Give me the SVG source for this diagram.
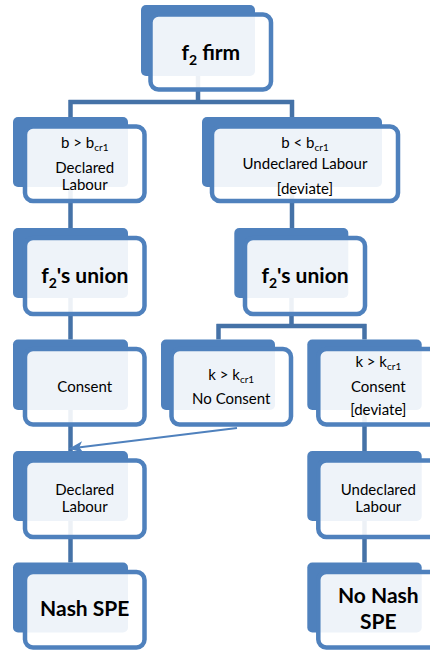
<svg xmlns="http://www.w3.org/2000/svg" width="430" height="650" viewBox="0 0 430 650">
<defs>
<style>
.back{fill:#4F81BD}
.front{fill:#FFFFFF;fill-opacity:0.9;stroke:#4F81BD;stroke-width:4.5}
.conn{fill:none;stroke:#4572A7;stroke-width:4.5;stroke-linejoin:miter}
.arrow{fill:none;stroke:#4F81BD;stroke-width:2}
text{font-family:Lato,"Liberation Sans",sans-serif;fill:#000;text-anchor:middle}
.t{font-size:15px}
.b{font-size:21px;font-weight:bold}
.s{font-size:10px}
.sb{font-size:14px}
</style>
<marker id="ah" markerUnits="userSpaceOnUse" markerWidth="14" markerHeight="14" viewBox="0 0 12 12" refX="11" refY="6" orient="auto">
<path d="M0,1 L12,6 L0,11 L3,6 Z" fill="#4F81BD"/>
</marker>
</defs>
<g id="connectors">
<path class="conn" d="M198,76 V102 M68.5,102 H294 M70.5,100 V117 M292,100 V117"/>
<path class="conn" d="M70.5,187 V228"/>
<path class="conn" d="M292,187 V228"/>
<path class="conn" d="M70.5,298 V339.5"/>
<path class="conn" d="M291.5,298 V326 M216.5,326 H366.5 M218.5,324 V339.5 M364.5,324 V339.5"/>
<path class="conn" d="M70.5,409.5 V451"/>
<path class="conn" d="M364.5,409.5 V451"/>
<path class="conn" d="M70.5,521 V562.5"/>
<path class="conn" d="M364.5,521 V562.5"/>
</g>
<g id="n1">
<rect class="back" x="141" y="5" width="114" height="71" rx="5"/>
<rect class="front" x="150.5" y="14.5" width="120.5" height="75" rx="8"/>
<text class="b" x="210.8" y="60">f<tspan class="sb" dy="5">2</tspan><tspan dy="-5"> firm</tspan></text>
</g>
<g id="n2">
<rect class="back" x="13" y="117" width="115" height="70" rx="5"/>
<rect class="front" x="25" y="126.5" width="119.5" height="74.5" rx="8"/>
<text class="t" x="84.75" y="148">b &gt; b<tspan class="s" dy="3">cr1</tspan></text>
<text class="t" x="84.75" y="173">Declared</text>
<text class="t" x="84.75" y="190">Labour</text>
</g>
<g id="n3">
<rect class="back" x="202" y="117" width="180" height="70" rx="5"/>
<rect class="front" x="212" y="126.5" width="186" height="74.5" rx="8"/>
<text class="t" x="305" y="148">b &lt; b<tspan class="s" dy="3">cr1</tspan></text>
<text class="t" x="305" y="169">Undeclared Labour</text>
<text class="t" x="305" y="194">[deviate]</text>
</g>
<g id="n4">
<rect class="back" x="13" y="228" width="115" height="70" rx="5"/>
<rect class="front" x="25" y="238" width="119.5" height="76" rx="8"/>
<text class="b" x="84.75" y="283">f<tspan class="sb" dy="5">2</tspan><tspan dy="-5">'s union</tspan></text>
</g>
<g id="n5">
<rect class="back" x="234.3" y="228" width="114" height="70" rx="5"/>
<rect class="front" x="245" y="238" width="120" height="76" rx="8"/>
<text class="b" x="305" y="283">f<tspan class="sb" dy="5">2</tspan><tspan dy="-5">'s union</tspan></text>
</g>
<g id="n6">
<rect class="back" x="13" y="339.5" width="115" height="70.5" rx="5"/>
<rect class="front" x="25" y="349" width="119.5" height="75.5" rx="8"/>
<text class="t" x="84.75" y="391.7">Consent</text>
</g>
<g id="n7">
<rect class="back" x="161" y="339.5" width="114" height="70.5" rx="5"/>
<rect class="front" x="171.5" y="349" width="119.5" height="75.5" rx="8"/>
<text class="t" x="231.25" y="380">k &gt; k<tspan class="s" dy="3">cr1</tspan></text>
<text class="t" x="231.25" y="404">No Consent</text>
</g>
<g id="n8">
<rect class="back" x="307.3" y="339.5" width="114.4" height="70.5" rx="5"/>
<rect class="front" x="318.3" y="349" width="120" height="75.5" rx="8"/>
<text class="t" x="378.3" y="366.7">k &gt; k<tspan class="s" dy="3">cr1</tspan></text>
<text class="t" x="378.3" y="391.7">Consent</text>
<text class="t" x="378.3" y="415">[deviate]</text>
</g>
<g id="n9">
<rect class="back" x="13" y="451" width="115" height="70" rx="5"/>
<rect class="front" x="25" y="460.5" width="119.5" height="76.5" rx="8"/>
<text class="t" x="84.75" y="495">Declared</text>
<text class="t" x="84.75" y="511.7">Labour</text>
</g>
<g id="n10">
<rect class="back" x="307.3" y="451" width="114.4" height="70" rx="5"/>
<rect class="front" x="318.3" y="460.5" width="120" height="76.5" rx="8"/>
<text class="t" x="378.3" y="495">Undeclared</text>
<text class="t" x="378.3" y="511.7">Labour</text>
</g>
<g id="n11">
<rect class="back" x="13" y="562.5" width="115" height="70" rx="5"/>
<rect class="front" x="25" y="572" width="119.5" height="75.5" rx="8"/>
<text class="b" x="84.75" y="616">Nash SPE</text>
</g>
<g id="n12">
<rect class="back" x="307.3" y="562.5" width="114.4" height="70" rx="5"/>
<rect class="front" x="318.3" y="572" width="120" height="75.5" rx="8"/>
<text class="b" x="378.3" y="603.3">No Nash</text>
<text class="b" x="378.3" y="629">SPE</text>
</g>
<g id="arrow">
<path class="arrow" d="M237,428 L70,448.5" marker-end="url(#ah)"/>
</g>
</svg>
